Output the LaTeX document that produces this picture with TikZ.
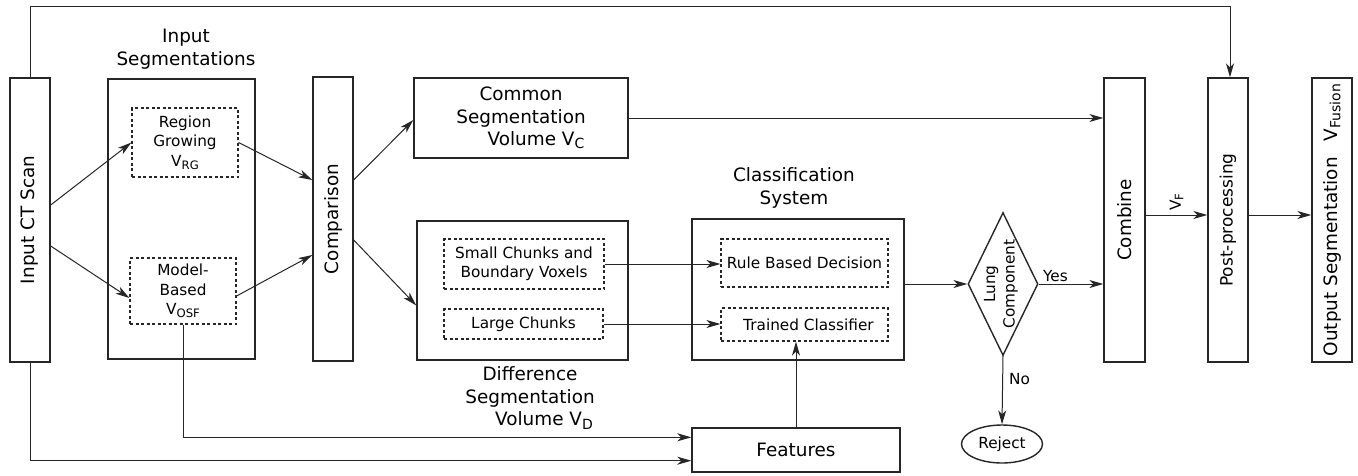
\documentclass[tikz,border=0pt]{standalone}
\usepackage{fontspec}
\setmainfont{DejaVu Sans}
\usepackage{graphicx}
\usetikzlibrary{shapes.geometric,arrows.meta,calc}
\newcommand{\subtx}[1]{\raisebox{-0.32ex}{\scalebox{0.76}{#1}}}
\begin{document}
\begin{tikzpicture}[x=1pt,y=-1pt,
  box/.style={draw=black!85, line width=1.4pt, inner sep=0pt, align=center},
  dbox/.style={draw=black!85, line width=1.2pt, dash pattern=on 3pt off 2.5pt, inner sep=0pt, align=center},
  arr/.style={-{Stealth[length=14pt,width=8pt,inset=4pt]}, line width=1pt, draw=black!85},
  big/.style={font=\fontsize{18.4}{22.5}\selectfont},
  sml/.style={font=\fontsize{15.3}{19.5}\selectfont},
  lbl/.style={big, align=center, inner sep=0pt}]
\useasboundingbox (0,0) rectangle (1358,475);

% vertical boxes
\node[box,big,minimum width=40,minimum height=284] (ct) at (30,220) {\rotatebox{90}{Input CT Scan}};
\node[box,big,minimum width=40,minimum height=284] (comp) at (333,219) {\rotatebox{90}{Comparison}};
\node[box,big,minimum width=41,minimum height=284] (comb) at (1124.5,220) {\rotatebox{90}{Combine}};
\node[box,font=\fontsize{17}{21}\selectfont,minimum width=40,minimum height=284] (post) at (1228,220) {\rotatebox{90}{Post-processing}};
\node[box,big,minimum width=40,minimum height=284] (out) at (1332,220) {\rotatebox{90}{Output Segmentation\hspace{16pt}V\subtx{Fusion}}};

% input segmentations
\node[box,minimum width=147,minimum height=280] (inseg) at (181.5,219) {};
\node[lbl] (inseglbl) at (186,49) {Input\\Segmentations};
\node[dbox,sml,minimum width=106,minimum height=69] (rg) at (185,142.5) {Region\\Growing\\V\subtx{RG}};
\node[dbox,sml,minimum width=106,minimum height=66] (mb) at (183,291) {Model-\\Based\\V\subtx{OSF}};

% common / difference
\node[box,big,minimum width=214,minimum height=80] (common) at (521,118) {Common\\Segmentation\\\hspace*{30pt}Volume V\subtx{C}};
\node[box,minimum width=211,minimum height=139] (diff) at (522.5,290.5) {};
\node[dbox,sml,minimum width=160,minimum height=50] (small) at (524,264) {Small Chunks and\\Boundary Voxels};
\node[dbox,sml,minimum width=159,minimum height=30] (large) at (523.5,324) {Large Chunks};
\node[lbl] (difflbl) at (530,398) {Difference\\Segmentation\\\hspace*{28pt}Volume V\subtx{D}};

% classification
\node[box,minimum width=212,minimum height=141] (class) at (798,289.5) {};
\node[lbl] (classlbl) at (794,188) {Classification\\System};
\node[dbox,sml,minimum width=167,minimum height=48] (rule) at (804.5,263) {Rule Based Decision};
\node[dbox,sml,minimum width=167,minimum height=33] (trained) at (804.5,324.5) {\hspace*{8pt}Trained Classifier};
\node[box,big,minimum width=208,minimum height=44] (feat) at (796,450) {Features};

% decision
\node[draw=black!85,line width=1.4pt,diamond,minimum width=70,minimum height=143,inner sep=0pt] (dia) at (1003,284) {};
\node[sml,inner sep=0pt] (diatxt) at (1001,284) {\rotatebox{90}{\begin{tabular}{@{}c@{}}Lung\\Component\end{tabular}}};
\node[draw=black!85,line width=1.4pt,ellipse,minimum width=81,minimum height=38,inner sep=0pt,sml] (rej) at (1002,444) {Reject};

% connectors
\coordinate (topc) at (1230,6);
\draw[arr] (ct.north) |- (topc) -- (topc |- post.north);
\coordinate (f1) at ($(feat.north west)+(0,10)$);
\coordinate (f2) at ($(feat.south west)+(0,-12)$);
\draw[arr] (ct.south) |- (f2);
\draw[arr] (mb.south) |- (f1);
\draw[arr] ($(ct.east)+(0,-15)$) -- (rg.west);
\draw[arr] ($(ct.east)+(0,26)$) -- ($(mb.west)+(0,7)$);
\draw[arr] (rg.east) -- ($(comp.west)+(0,-39)$);
\draw[arr] ($(mb.east)+(0,5)$) -- ($(comp.west)+(0,36)$);
\draw[arr] ($(comp.east)+(0,-39)$) -- ($(common.west)+(0,2)$);
\draw[arr] ($(comp.east)+(0,21)$) -- ($(diff.west)+(0,15)$);
\draw[arr] (common.east) -- (common.east -| comb.west);
\draw[arr] (small.east) -- (small.east -| rule.west);
\draw[arr] (large.east) -- (large.east -| trained.west);
\draw[arr] (feat.north) -- (feat.north |- trained.south);
\draw[arr] (class.east |- dia.west) -- (dia.west);
\draw[arr] (dia.east) -- node[sml, above, inner sep=2pt, pos=0.26]{Yes} (dia.east -| comb.west);
\draw[arr] (dia.south) -- node[sml, right, inner sep=6pt, pos=0.33]{No} (rej.north);
\coordinate (cf) at ($(comb.east)+(0,-5)$);
\draw[arr] (cf) -- node[sml, above, inner sep=4pt]{\rotatebox{90}{V\subtx{F}}} (cf -| post.west);
\draw[arr] (post.east |- cf) -- (cf -| out.west);
\end{tikzpicture}
\end{document}
